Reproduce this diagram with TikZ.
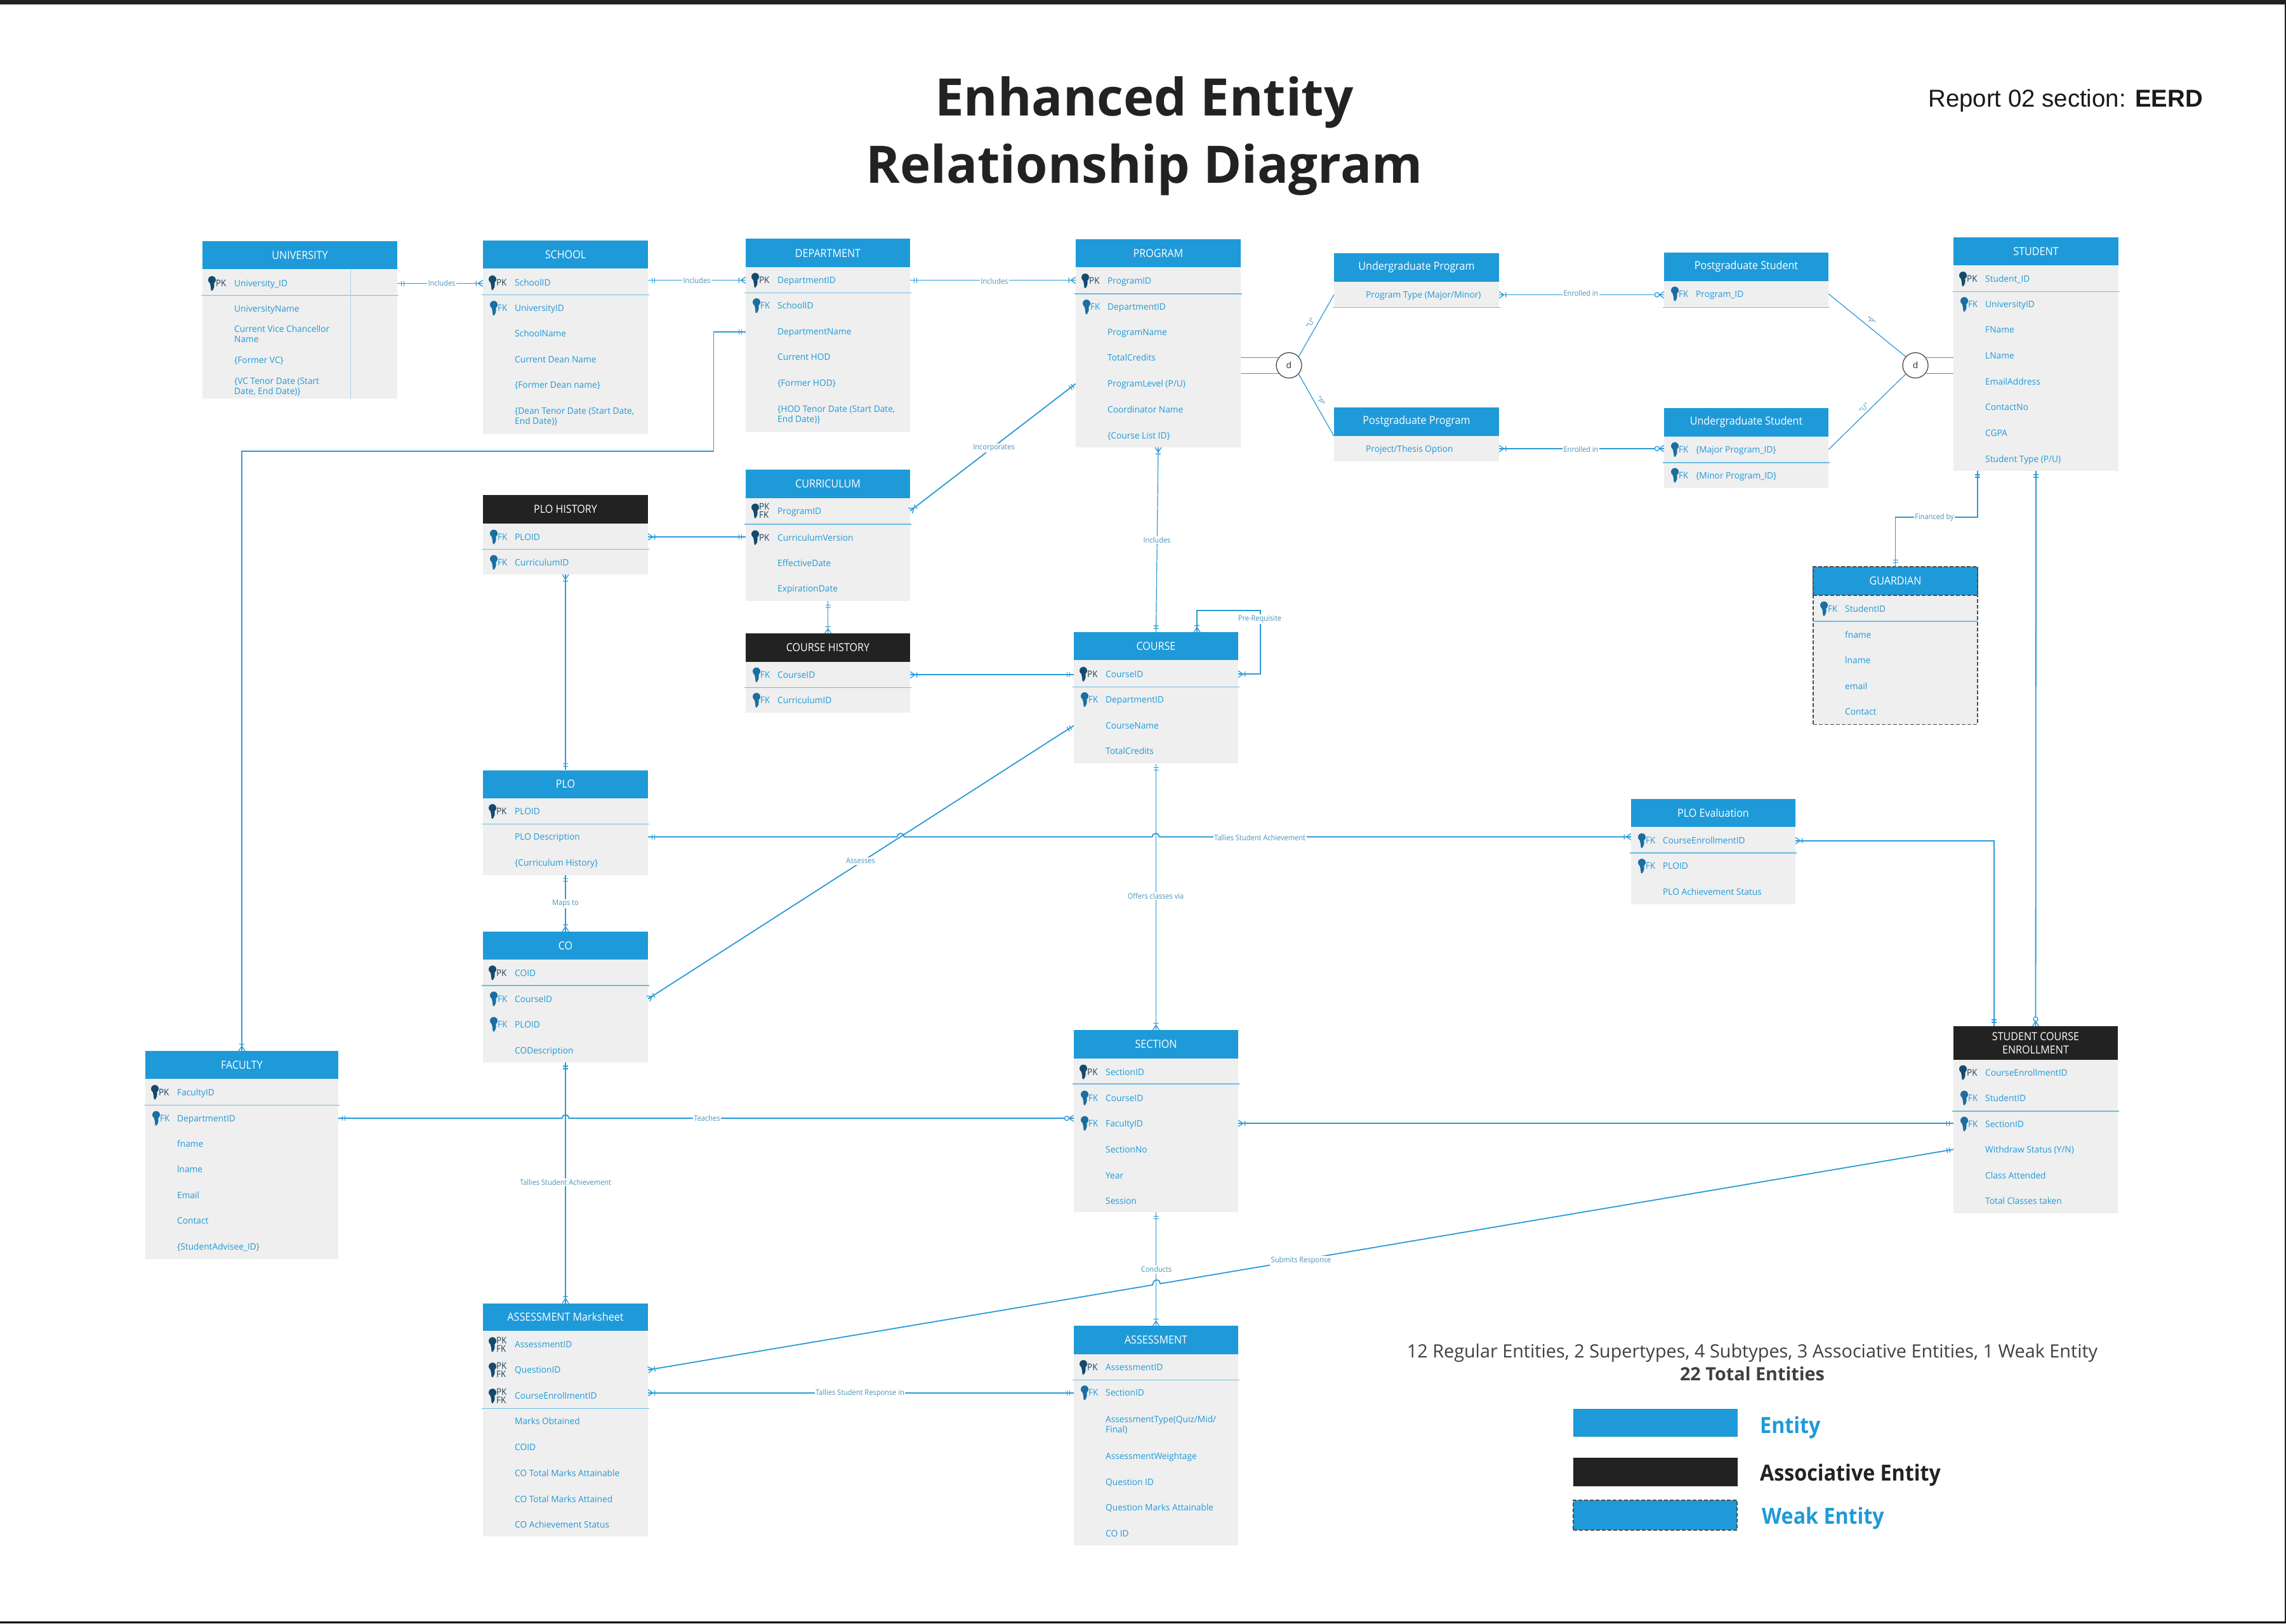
\documentclass[tikz,border=0pt]{standalone}
\usepackage{fontspec}
\setmainfont{Open Sans}
\newfontfamily\narrowfam[FakeStretch=0.92]{Open Sans}
\newfontfamily\rowfam[FakeStretch=0.98]{Open Sans}
\newfontfamily\reportfam{Liberation Sans}
\usetikzlibrary{decorations.markings}
\definecolor{linec}{HTML}{2A9AD8}
\definecolor{hblue}{HTML}{1F9AD9}
\definecolor{hdark}{HTML}{222222}
\definecolor{bodyg}{HTML}{EFEFEF}
\definecolor{sepc}{HTML}{6CBDE6}
\definecolor{rowc}{HTML}{1F9AD9}
\definecolor{pkc}{HTML}{154A6E}
\definecolor{fkc}{HTML}{1B6EA1}
\definecolor{pktext}{HTML}{1C3F57}
\definecolor{lblc}{HTML}{4A93B8}
\definecolor{inkc}{HTML}{404040}
\def\rowf{\rowfam\fontsize{14}{16}\selectfont\lineskiplimit=-50pt }
\def\st{\rule[-4pt]{0pt}{18.4pt}}
\newcommand\mkone[1]{\draw[mk] (#1*6pt,-4pt)--(#1*6pt,4pt) (#1*10pt,-4pt)--(#1*10pt,4pt);}
\newcommand\mkmany[1]{\draw[mk] (#1*7.5pt,0pt)--(0pt,-5pt) (#1*7.5pt,0pt)--(0pt,5pt) (#1*7.5pt,0pt)--(0pt,0pt) (#1*10.5pt,-4pt)--(#1*10.5pt,4pt);}
\newcommand\mkzero[1]{\draw[mk] (#1*7.5pt,0pt)--(0pt,-5pt) (#1*7.5pt,0pt)--(0pt,5pt) (#1*7.5pt,0pt)--(0pt,0pt);\draw[mk,fill=white] (#1*11pt,0pt) circle (3.5pt);}
\tikzset{
  mk/.style={draw=linec,line width=1.3pt},
  conn/.style={draw=linec,line width=1.8pt},
  thinl/.style={draw=linec,line width=1.2pt},
  oneS/.style={postaction={decorate,decoration={markings,mark=at position 0 with {\mkone{1}}}}},
  oneE/.style={postaction={decorate,decoration={markings,mark=at position 1 with {\mkone{-1}}}}},
  manyS/.style={postaction={decorate,decoration={markings,mark=at position 0 with {\mkmany{1}}}}},
  manyE/.style={postaction={decorate,decoration={markings,mark=at position 1 with {\mkmany{-1}}}}},
  zeroE/.style={postaction={decorate,decoration={markings,mark=at position 1 with {\mkzero{-1}}}}},
  body/.style={fill=bodyg,inner sep=0pt},
  headb/.style={fill=hblue,text=white,inner sep=0pt,align=center,font=\narrowfam\fontsize{17.5}{21}\selectfont},
  headd/.style={headb,fill=hdark},
  weak/.style={draw=black!70,dash pattern=on 6pt off 3pt,line width=1.3pt},
  sepl/.style={draw=sepc,line width=1.6pt},
  rowtext/.style={anchor=west,inner sep=0pt,align=left,text=rowc,font=\rowf},
  keytext/.style={anchor=west,inner sep=0pt,align=left,font=\narrowfam\fontsize{14.5}{15}\selectfont},
  lbl/.style={fill=white,inner sep=1.5pt,text=lblc,font=\narrowfam\fontsize{12}{14}\selectfont},
  subl/.style={inner sep=0pt,text=lblc,font=\fontsize{11}{13}\selectfont},
  disc/.style={circle,draw=black!70,line width=1.3pt,fill=white,minimum size=40pt,inner sep=0pt,text=black!80,font=\fontsize{14}{16}\selectfont},
  keypic/.pic={
    \fill (0,-5.5) circle (6);
    \fill (-4,-3) -- (4,-3) -- (3.2,2) -- (4,3) -- (2.8,5) -- (3.6,6) -- (2,9) -- (0.6,11.5) -- (-1.4,11) -- (-2.2,4) -- cycle;
  }
}
% #1 options, #2 name, #3 x1, #4 x2, #5 top, #6 header bottom, #7 sep, #8 bottom, #9 title
\newcommand\ent[9][]{%
  \node[body,#1,minimum width={(#4-#3)*1pt},minimum height={(#8-#5)*1pt}] (#2) at ({(#3+#4)/2},{(#5+#8)/2}) {};
  \node[headb,#1,minimum width={(#4-#3)*1pt},minimum height={(#6-#5)*1pt}] (#2h) at ({(#3+#4)/2},{(#5+#6)/2}) {#9};
  \ifx\relax#7\relax\else\draw[sepl] (#3-2,#7) -- (#4+2,#7);\fi
}
\newcommand\entd[8]{%
  \node[body,minimum width={(#3-#2)*1pt},minimum height={(#7-#4)*1pt}] (#1) at ({(#2+#3)/2},{(#4+#7)/2}) {};
  \node[headd,minimum width={(#3-#2)*1pt},minimum height={(#5-#4)*1pt}] (#1h) at ({(#2+#3)/2},{(#4+#5)/2}) {#8};
  \draw[sepl] (#2-2,#6) -- (#3+2,#6);
}
\newcommand\rowt[4]{\node[rowtext] (#1) at (#2+50,#3) {\st #4\st};}
\newcommand\prow[4]{\pic[color=pkc] at (#2+15,#3) {keypic};
  \node[keytext,text=pktext] (#1k) at (#2+21,#3) {PK};\rowt{#1}{#2}{#3}{#4}}
\newcommand\frow[4]{\pic[color=fkc] at (#2+17,#3) {keypic};
  \node[keytext,text=rowc] (#1k) at (#2+23,#3) {FK};\rowt{#1}{#2}{#3}{#4}}
\newcommand\pfrow[4]{\pic[color=pkc] at (#2+15,#3) {keypic};
  \node[keytext,text=pktext] (#1k) at (#2+21,#3-6.5) {PK};
  \node[keytext,text=pktext] (#1j) at (#2+21,#3+6.5) {FK};\rowt{#1}{#2}{#3}{#4}}
\begin{document}
\begin{tikzpicture}[x=1pt,y=-1.0012pt]
\useasboundingbox (0,0) rectangle (3602,2554.93);
\fill[white] (0,0) rectangle (3602,2554.93);
\fill[hdark] (0,0) rectangle (3602,7);
\fill[hdark] (3600,0) rectangle (3602,2554.93);
\fill[black] (0,2552) rectangle (3602,2554.93);

\node[inner sep=0pt,align=center,text=hdark,font=\fontsize{81.5}{106}\selectfont\bfseries] (title) at (1803,214) {Enhanced Entity\\Relationship Diagram};
\node[inner sep=0pt,anchor=east,text=black!90,font=\reportfam\fontsize{38.4}{46}\selectfont] (report) at (3471,158) {Report 02 section: \textbf{EERD}};

% ---- entities
\ent{un}{319}{626}{380}{424}{465}{627}{UNIVERSITY}
\draw[draw=sepc,line width=1pt,densely dotted] (552,424) -- (552,627);
\prow{un1}{319}{446}{University\_ID}
\rowt{un2}{319}{486}{UniversityName}
\rowt{un3}{319}{526}{Current Vice Chancellor\\Name}
\rowt{un4}{319}{567}{\{Former VC\}}
\rowt{un5}{319}{607.5}{\{VC Tenor Date (Start\\Date, End Date)\}}

\ent{sc}{761}{1021}{379}{423}{464}{683}{SCHOOL}
\prow{sc1}{761}{445}{SchoolID}
\frow{sc2}{761}{485}{UniversityID}
\rowt{sc3}{761}{525}{SchoolName}
\rowt{sc4}{761}{566}{Current Dean Name}
\rowt{sc5}{761}{606}{\{Former Dean name\}}
\rowt{sc6}{761}{655}{\{Dean Tenor Date (Start Date,\\End Date)\}}

\ent{de}{1175}{1434}{376}{421}{461}{680}{DEPARTMENT}
\prow{de1}{1175}{441}{DepartmentID}
\frow{de2}{1175}{481}{SchoolID}
\rowt{de3}{1175}{522}{DepartmentName}
\rowt{de4}{1175}{562}{Current HOD}
\rowt{de5}{1175}{603}{\{Former HOD\}}
\rowt{de6}{1175}{652}{\{HOD Tenor Date (Start Date,\\End Date)\}}

\ent{pr}{1695}{1955}{377}{421}{462.5}{704}{PROGRAM}
\prow{pr1}{1695}{442}{ProgramID}
\frow{pr2}{1695}{483}{DepartmentID}
\rowt{pr3}{1695}{523}{ProgramName}
\rowt{pr4}{1695}{563}{TotalCredits}
\rowt{pr5}{1695}{604}{ProgramLevel (P/U)}
\rowt{pr6}{1695}{645}{Coordinator Name}
\rowt{pr7}{1695}{685}{\{Course List ID\}}

\ent{up}{2102}{2362}{398}{443}{484}{484}{Undergraduate Program}
\rowt{up1}{2102}{464}{Program Type (Major/Minor)}
\ent{pp}{2102}{2362}{641}{686}{}{726}{Postgraduate Program}
\rowt{pp1}{2102}{706}{Project/Thesis Option}
\ent{ps}{2622}{2881}{397}{442}{484}{484}{Postgraduate Student}
\frow{ps1}{2622}{462.5}{Program\_ID}
\ent{us}{2622}{2881}{642}{687}{728}{768}{Undergraduate Student}
\frow{us1}{2622}{707.5}{\{Major Program\_ID\}}
\frow{us2}{2622}{748}{\{Minor Program\_ID\}}

\ent{st}{3078}{3338}{374}{417.5}{459}{741}{STUDENT}
\prow{st1}{3078}{439}{Student\_ID}
\frow{st2}{3078}{479}{UniversityID}
\rowt{st3}{3078}{519}{FName}
\rowt{st4}{3078}{560}{LName}
\rowt{st5}{3078}{601}{EmailAddress}
\rowt{st6}{3078}{641}{ContactNo}
\rowt{st7}{3078}{681.5}{CGPA}
\rowt{st8}{3078}{722}{Student Type (P/U)}

\ent[weak]{gu}{2857}{3116}{892}{937}{}{1140}{GUARDIAN}
\frow{gu1}{2857}{958}{StudentID}
\draw[sepl] (2857,978) -- (3116,978);
\rowt{gu2}{2857}{999}{fname}
\rowt{gu3}{2857}{1039}{lname}
\rowt{gu4}{2857}{1080}{email}
\rowt{gu5}{2857}{1120}{Contact}

\ent{cu}{1175}{1434}{739.5}{784}{825}{946}{CURRICULUM}
\pfrow{cu1}{1175}{804}{ProgramID}
\prow{cu2}{1175}{846}{CurriculumVersion}
\rowt{cu3}{1175}{886}{EffectiveDate}
\rowt{cu4}{1175}{926}{ExpirationDate}

\entd{ph}{761}{1021}{779}{824}{864.5}{904}{PLO HISTORY}
\frow{ph1}{761}{845}{PLOID}
\frow{ph2}{761}{885}{CurriculumID}

\entd{ch}{1175}{1434}{997}{1041.5}{1082}{1122}{COURSE HISTORY}
\frow{ch1}{1175}{1062}{CourseID}
\frow{ch2}{1175}{1102}{CurriculumID}

\ent{cs}{1692}{1951}{995}{1039}{1081}{1202}{COURSE}
\prow{cs1}{1692}{1061}{CourseID}
\frow{cs2}{1692}{1101}{DepartmentID}
\rowt{cs3}{1692}{1142}{CourseName}
\rowt{cs4}{1692}{1182}{TotalCredits}

\ent{pl}{761}{1021}{1212}{1256}{1297}{1377}{PLO}
\prow{pl1}{761}{1277}{PLOID}
\rowt{pl2}{761}{1317}{PLO Description}
\rowt{pl3}{761}{1358}{\{Curriculum History\}}

\ent{co}{761}{1021}{1466}{1510}{1551}{1672}{CO}
\prow{co1}{761}{1531}{COID}
\frow{co2}{761}{1572}{CourseID}
\frow{co3}{761}{1612}{PLOID}
\rowt{co4}{761}{1653}{CODescription}

\ent{pe}{2570}{2829}{1257}{1301}{1342.5}{1423}{PLO Evaluation}
\frow{pe1}{2570}{1323}{CourseEnrollmentID}
\frow{pe2}{2570}{1363}{PLOID}
\rowt{pe3}{2570}{1404}{PLO Achievement Status}

\ent{fa}{229}{533}{1654}{1698}{1739.5}{1982}{FACULTY}
\prow{fa1}{229}{1719}{FacultyID}
\frow{fa2}{229}{1760}{DepartmentID}
\rowt{fa3}{229}{1800}{fname}
\rowt{fa4}{229}{1840.5}{lname}
\rowt{fa5}{229}{1881}{Email}
\rowt{fa6}{229}{1921}{Contact}
\rowt{fa7}{229}{1962}{\{StudentAdvisee\_ID\}}

\ent{se}{1692}{1951}{1621}{1666}{1706}{1908}{SECTION}
\prow{se1}{1692}{1687}{SectionID}
\frow{se2}{1692}{1728}{CourseID}
\frow{se3}{1692}{1768}{FacultyID}
\rowt{se4}{1692}{1809}{SectionNo}
\rowt{se5}{1692}{1850}{Year}
\rowt{se6}{1692}{1890}{Session}

\entd{en}{3078}{3337}{1615}{1668}{1749}{1910}{STUDENT COURSE\\ENROLLMENT}
\prow{en1}{3078}{1688}{CourseEnrollmentID}
\frow{en2}{3078}{1728}{StudentID}
\frow{en3}{3078}{1769}{SectionID}
\rowt{en4}{3078}{1809}{Withdraw Status (Y/N)}
\rowt{en5}{3078}{1850}{Class Attended}
\rowt{en6}{3078}{1890}{Total Classes taken}

\ent{am}{761}{1021}{2051}{2094}{2217}{2418.5}{ASSESSMENT Marksheet}
\pfrow{am1}{761}{2116}{AssessmentID}
\pfrow{am2}{761}{2156}{QuestionID}
\pfrow{am3}{761}{2197}{CourseEnrollmentID}
\rowt{am4}{761}{2237}{Marks Obtained}
\rowt{am5}{761}{2278}{COID}
\rowt{am6}{761}{2318}{CO Total Marks Attainable}
\rowt{am7}{761}{2359}{CO Total Marks Attained}
\rowt{am8}{761}{2399}{CO Achievement Status}

\ent{as}{1692}{1951}{2086.5}{2131}{2172}{2432}{ASSESSMENT}
\prow{as1}{1692}{2152}{AssessmentID}
\frow{as2}{1692}{2192}{SectionID}
\rowt{as3}{1692}{2242}{AssessmentType(Quiz/Mid/\\Final)}
\rowt{as4}{1692}{2292}{AssessmentWeightage}
\rowt{as5}{1692}{2332}{Question ID}
\rowt{as6}{1692}{2372}{Question Marks Attainable}
\rowt{as7}{1692}{2413}{CO ID}

% ---- helper points
\coordinate (fbend) at (1124.5,710);
\coordinate (csl) at (1886,961);
\coordinate (csr) at (1986,961);
\coordinate (enx) at (3142,1300);
\coordinate (fb) at (3116,814);
\coordinate (jp) at (1821,1317);
\coordinate (jq) at (1419,1317);
\coordinate (jf) at (891,1760);
\coordinate (jl) at (1816,2022.3);
\coordinate (jc1) at (1817,2013);
\coordinate (jc2) at (1827,2011);
\coordinate (jr) at (1828,2020.3);

% ---- connectors
\draw[conn,oneS,manyE] (un1-|un.east) -- (un1-|sc.west);
\draw[conn,oneS,manyE] (de1-|sc.east) -- (de1-|de.west);
\draw[conn,oneS,manyE] (de1-|de.east) -- (de1-|pr.west);
\draw[conn,oneS,manyE] (de3-|de.west) -- (de3-|fbend) -- (fbend) -- (fbend-|fa.north) -- (fa.north);
\draw[conn,manyS,oneE] (cu1-|cu.east) -- (pr5-|pr.west);
\draw[conn,manyS,oneE] (ph1-|ph.east) -- (ph1-|cu.west);
\draw[conn,oneS,manyE] (cu.south) -- (ch.north);
\draw[conn,manyS,oneE] (ch1-|ch.east) -- (ch1-|cs.west);
\draw[thinl,manyS,oneE] (ph.south) -- (pl.north);
\draw[thinl,manyS,oneE] (pr.south) -- (cs.north);
\draw[conn,manyS,manyE] (csl|-cs.north) -- (csl) -- (csr) -- (csr|-cs1) -- (cs1-|cs.east);
\draw[conn,oneS,manyE] (cs.south) -- (se.north);
\draw[conn,oneS,manyE] (pl2-|pl.east) -- ([xshift=-5.5pt]jq) arc[start angle=180,end angle=0,radius=5.5pt] -- ([xshift=-5.5pt]jp) arc[start angle=180,end angle=0,radius=5.5pt] -- (pl2-|pe.west);
\draw[thinl,oneS,manyE] (pl.south) -- (co.north);
\draw[conn,manyS,oneE] (co2-|co.east) -- (cs3-|cs.west);
\draw[conn,oneS,manyE] (co.south) -- (am.north);
\draw[conn,oneS,zeroE] (fa2-|fa.east) -- ([xshift=-5.5pt]jf) arc[start angle=180,end angle=0,radius=5.5pt] -- (fa2-|se.west);
\draw[conn,manyS,oneE] (se3-|se.east) -- (se3-|en.west);
\draw[conn,oneS,manyE] (se.south) -- (as.north);
\draw[conn,manyS,oneE] (am2-|am.east) -- (jl) .. controls (jc1) and (jc2) .. (jr) -- (en4-|en.west);
\draw[conn,manyS,oneE] (as2-|am.east) -- (as2-|as.west);
\draw[conn,manyS,oneE] (pe1-|pe.east) -- (pe1-|enx) -- (enx|-en.north);
\draw[conn,oneS,zeroE] (st.south) -- (en.north);
\draw[conn,oneS,oneE] (fb|-st.south) -- (fb) -- (fb-|gu.north) -- (gu.north);
\draw[conn,manyS,zeroE] (up1-|up.east) -- (up1-|ps.west);
\draw[conn,manyS,zeroE] (pp1-|pp.east) -- (pp1-|us.west);

% ---- disjoint circles
\node[disc] (d1) at (2031,575) {d};
\node[disc] (d2) at (3018,575) {d};
\draw[thinl] (d1.143-|pr.east) -- (d1.143);
\draw[thinl] (d1.217-|pr.east) -- (d1.217);
\draw[thinl] (d1.42) -- (up1-|up.west);
\draw[thinl] (d1.-42) -- (pph.south west);
\draw[thinl] (d2.37-|st.west) -- (d2.37);
\draw[thinl] (d2.-37-|st.west) -- (d2.-37);
\draw[thinl] (d2.138) -- (ps1-|ps.east);
\draw[thinl] (d2.222) -- (us1-|us.east);
\node[subl,rotate=60] (su1) at (2065,508) {"U"};
\node[subl,rotate=-58] (su2) at (2081,631) {"P"};
\node[subl,rotate=-38] (su3) at (2948,505) {"P"};
\node[subl,rotate=44] (su4) at (2937,642) {"U"};

% ---- connector labels
\node[lbl] (l1) at (696,445) {Includes};
\node[lbl] (l2) at (1098,441) {Includes};
\node[lbl] (l3) at (1567,442) {Includes};
\node[lbl] (l4) at (1566,705) {Incorporates};
\node[lbl] (l5) at (1823,850) {Includes};
\node[lbl] (l6) at (1985,974) {Pre-Requisite};
\node[lbl] (l7) at (1985,1318) {Tallies Student Achievement};
\node[lbl] (l8) at (891,1422) {Maps to};
\node[lbl] (l9) at (1356,1355) {Assesses};
\node[lbl] (l10) at (1821,1410) {Offers classes via};
\node[lbl] (l11) at (891,1861) {Tallies Student Achievement};
\node[lbl] (l12) at (1114,1760) {Teaches};
\node[lbl] (l13) at (1822,1998) {Conducts};
\node[lbl] (l14) at (2050,1984) {Submits Response};
\node[lbl] (l15) at (1355,2193) {Tallies Student Response in};
\node[lbl] (l16) at (2491,461) {Enrolled in};
\node[lbl] (l17) at (2491,707) {Enrolled in};
\node[lbl] (l18) at (3048,814) {Financed by};

% ---- legend
\node[inner sep=0pt,align=center,text=inkc,font=\fontsize{28.8}{36}\selectfont] (sum) at (2761,2144) {12 Regular Entities, 2 Supertypes, 4 Subtypes, 3 Associative Entities, 1 Weak Entity\\\textbf{22 Total Entities}};
\node[fill=hblue,inner sep=0pt,minimum width=259pt,minimum height=44pt] (leg1) at (2608.5,2239) {};
\node[fill=hdark,inner sep=0pt,minimum width=259pt,minimum height=45pt] (leg2) at (2608.5,2316.5) {};
\node[fill=hblue,weak,inner sep=0pt,minimum width=258pt,minimum height=47pt] (leg3) at (2608,2384.5) {};
\node[anchor=west,inner sep=0pt,text=hblue,font=\narrowfam\fontsize{35}{40}\selectfont\bfseries] (lt1) at (2773,2247) {Entity};
\node[anchor=west,inner sep=0pt,text=hdark,font=\narrowfam\fontsize{35}{40}\selectfont\bfseries] (lt2) at (2773,2322) {Associative Entity};
\node[anchor=west,inner sep=0pt,text=hblue,font=\narrowfam\fontsize{35}{40}\selectfont\bfseries] (lt3) at (2776,2389) {Weak Entity};
\end{tikzpicture}
\end{document}
